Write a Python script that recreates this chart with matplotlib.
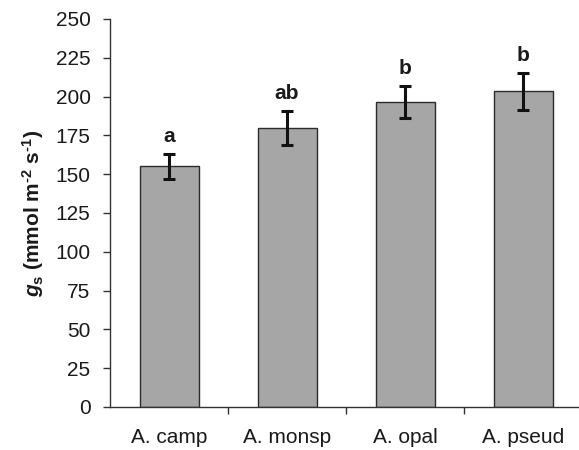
import numpy as np
import matplotlib.pyplot as plt

# ── Data ──────────────────────────────────────────────────────────────
species = ["A. camp", "A. monsp", "A. opal", "A. pseud"]
gs_mean = [155, 180, 196.5, 203.5]
gs_err = [8, 11, 10.5, 12]
letters = ["a", "ab", "b", "b"]

plt.rcParams["font.family"] = ["Liberation Sans", "DejaVu Sans"]
plt.rcParams["mathtext.fontset"] = "custom"
plt.rcParams["mathtext.rm"] = "Liberation Sans:bold"
plt.rcParams["mathtext.it"] = "Liberation Sans:italic:bold"
plt.rcParams["mathtext.bf"] = "Liberation Sans:bold"

fig = plt.figure(figsize=(5.79, 4.5), dpi=100, facecolor="white")
ax = fig.add_axes([110 / 579, 43 / 450, 472 / 579, 388 / 450])

x = np.arange(len(species))
ax.bar(x, gs_mean, width=0.5, color="#a6a6a6", edgecolor="#2b2b2b", linewidth=1.0, zorder=2)
ax.errorbar(x, gs_mean, yerr=gs_err, fmt="none", ecolor="#111111",
            elinewidth=2.2, capsize=4.5, capthick=2.2, zorder=3)

for xi, m, e, lab in zip(x, gs_mean, gs_err, letters):
    ax.text(xi, m + e + 5, lab, ha="center", va="bottom",
            fontsize=15, fontweight="bold", color="#1a1a1a")

# ── Axes styling ──────────────────────────────────────────────────────
ax.set_xlim(-0.5, len(species) - 0.5)
ax.set_ylim(0, 250)
ax.set_yticks(np.arange(0, 251, 25))
ax.set_xticks(x)
ax.set_xticklabels(species)
ax.set_xticks(np.arange(0.5, len(species) - 0.5, 1), minor=True)
ax.tick_params(axis="x", which="major", length=0, pad=15, labelsize=15, colors="#1a1a1a")
ax.tick_params(axis="x", which="minor", length=5, width=1, direction="out", color="#333333")
ax.tick_params(axis="y", length=5, width=1, direction="out", labelsize=15,
               color="#333333", labelcolor="#1a1a1a", pad=9)

for s in ["top", "right"]:
    ax.spines[s].set_visible(False)
for s in ["left", "bottom"]:
    ax.spines[s].set_color("#333333")
    ax.spines[s].set_linewidth(1.0)

ax.set_ylabel(r"$g_{\rm s}$ (mmol m$^{\text{-2}}$ s$^{\text{-1}}$)", fontsize=15,
              fontweight="bold", color="#1a1a1a", labelpad=7)

plt.savefig("out.png", dpi=100, facecolor="white")
plt.close()
